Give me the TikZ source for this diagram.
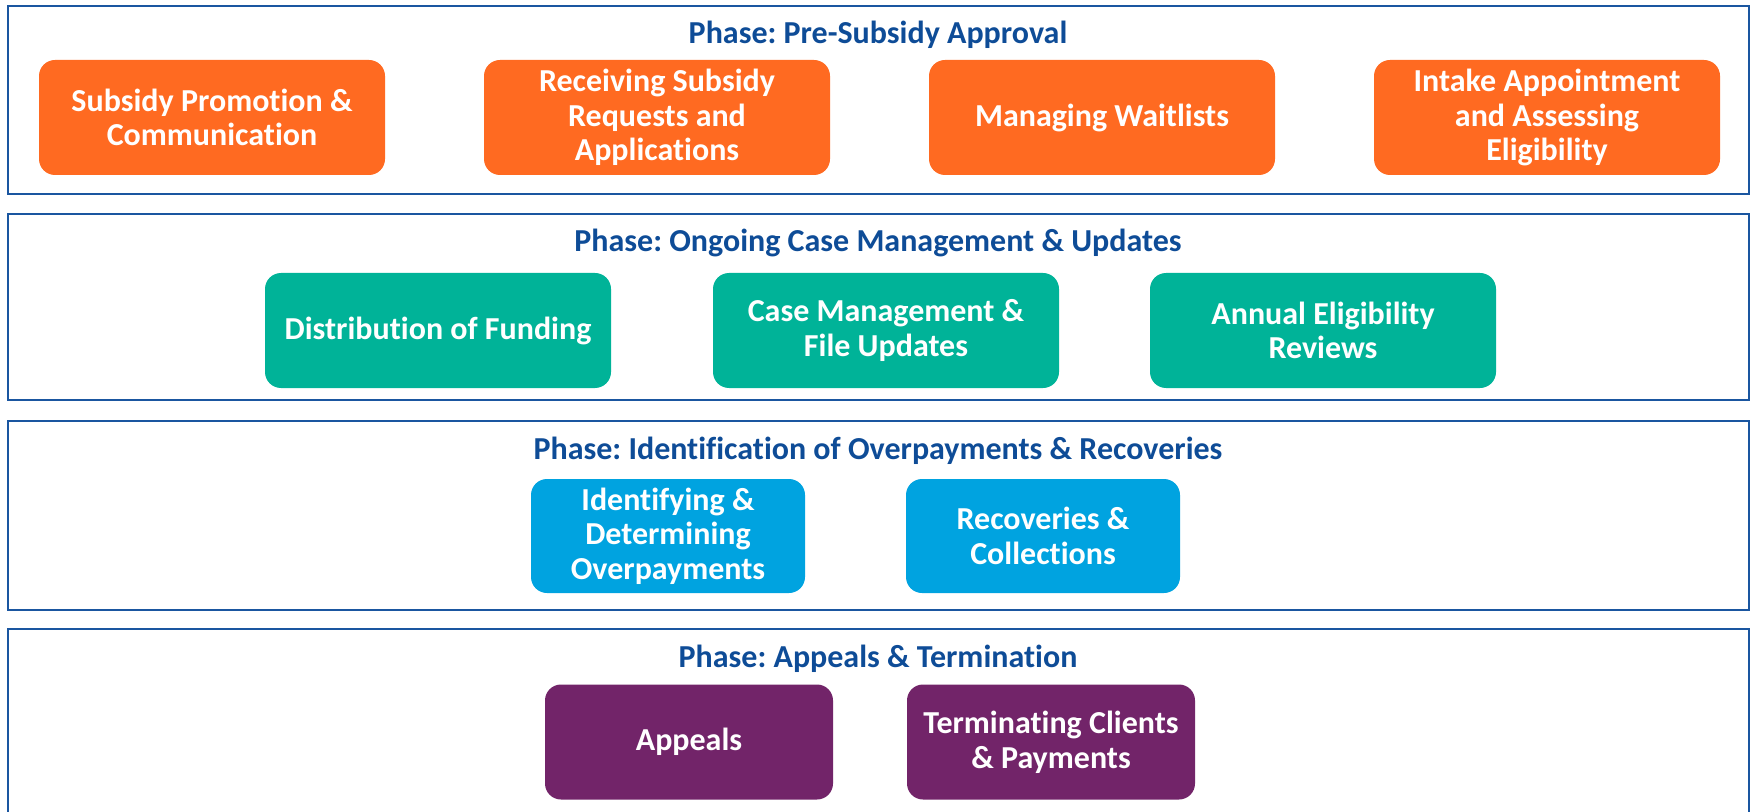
\documentclass[tikz,border=0pt]{standalone}
\usepackage{fontspec}
\setmainfont{Carlito}[Ligatures=NoCommon]
\frenchspacing
\definecolor{framecol}{HTML}{1A56A0}
\definecolor{titlecol}{HTML}{0E4C97}
\definecolor{orangecol}{HTML}{FF6A21}
\definecolor{tealcol}{HTML}{00B398}
\definecolor{bluecol}{HTML}{00A3E0}
\definecolor{purplecol}{HTML}{722469}

\begin{document}
\begin{tikzpicture}
  [x=0.5pt,y=-0.5pt,
   phase/.style={draw=framecol,line width=1.2pt},
   phasetitle/.style={text=titlecol,font=\bfseries\fontsize{16}{19}\selectfont},
   task/.style={rounded corners=8pt,text=white,align=center,
     font=\bfseries\fontsize{16}{17.3}\selectfont,inner sep=0pt},
   wide/.style={task,minimum width=173pt,minimum height=57.5pt},
   narrow/.style={task,minimum width=137pt,minimum height=57pt},
   mid/.style={task,minimum width=144pt,minimum height=57.5pt}]
  \useasboundingbox (0,0) rectangle (1754,812);
  % phase frames
  \draw[phase] (8,6) rectangle (1749,194);
  \draw[phase] (8,214) rectangle (1749,400);
  \draw[phase] (8,421) rectangle (1749,610);
  \draw[phase] (8,629) rectangle (1749,840);
  % phase titles
  \node[phasetitle] (t1) at (878,35)  {Phase: Pre-Subsidy Approval};
  \node[phasetitle] (t2) at (878,243) {Phase: Ongoing Case Management \& Updates};
  \node[phasetitle] (t3) at (878,451) {Phase: Identification of Overpayments \& Recoveries};
  \node[phasetitle] (t4) at (878,659) {Phase: Appeals \& Termination};
  % pre-subsidy approval
  \node[wide,fill=orangecol] (promo)   at (212,117.5)  {Subsidy Promotion \&\\Communication};
  \node[wide,fill=orangecol] (request) at (657,117.5)  {Receiving Subsidy\\Requests and\\Applications};
  \node[wide,fill=orangecol] (wait)    at (1102,117.5) {Managing Waitlists};
  \node[wide,fill=orangecol] (intake)  at (1547,117.5) {Intake Appointment\\and Assessing\\Eligibility};
  % ongoing case management
  \node[wide,fill=tealcol] (fund)   at (438,330.5)  {Distribution of Funding};
  \node[wide,fill=tealcol] (case)   at (886,330.5)  {Case Management \&\\File Updates};
  \node[wide,fill=tealcol] (review) at (1323,330.5) {Annual Eligibility\\Reviews};
  % overpayments
  \node[narrow,fill=bluecol] (identify) at (668,536)  {Identifying \&\\Determining\\Overpayments};
  \node[narrow,fill=bluecol] (recover)  at (1043,536) {Recoveries \&\\Collections};
  % appeals
  \node[mid,fill=purplecol] (appeal) at (689,742)  {Appeals};
  \node[mid,fill=purplecol] (term)   at (1051,742) {Terminating Clients\\\& Payments};
\end{tikzpicture}
\end{document}
